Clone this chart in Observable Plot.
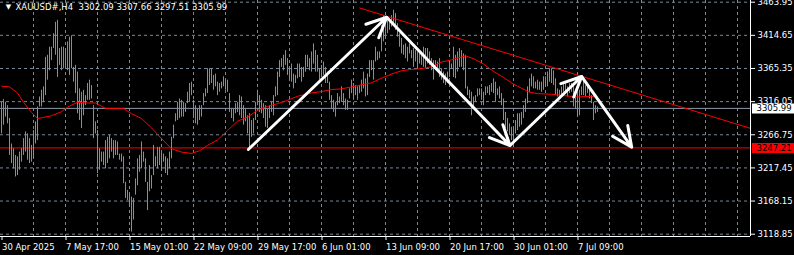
<!DOCTYPE html>
<html><head><meta charset="utf-8">
<script src="https://cdn.jsdelivr.net/npm/d3@7"></script>
<script src="https://cdn.jsdelivr.net/npm/@observablehq/plot@0.6"></script>
<style>html,body{margin:0;padding:0;background:#000;overflow:hidden}svg{display:block}</style>
</head><body><div id="chart"></div>
<script>
const titleText = "XAUUSD#,H4\u00a0 3302.09 3307.66 3297.51 3305.99";
const highs = [
3315,3319,3315,3310,3291,3253,3246,3236,3234,3241,3246,3261,3271,3268,3261,3251,3273,3286,3308,3323,
3333,3338,3382,3385,3397,3397,3417,3434,3437,3395,3397,3397,3395,3405,3412,3414,3367,3370,3360,3335,
3330,3333,3325,3343,3348,3340,3310,3286,3273,3246,3241,3241,3258,3263,3266,3261,3258,3258,3256,3238,
3238,3234,3196,3184,3177,3174,3172,3201,3231,3236,3256,3241,3231,3196,3221,
3206,3251,3234,3248,3248,3241,3238,3234,3231,3241,3263,3281,3298,3315,3320,3318,3315,3313,3330,3343,
3345,3318,3310,3305,3310,3310,3328,3335,3365,3365,3365,3355,3357,3345,3343,3345,3353,3348,3348,3328,
3305,3305,3313,3315,3325,3323,3310,3305,3295,3298,3288,3291,3315,3333,3325,3318,3313,3310,3305,3310,
3315,3325,3338,3360,3377,3380,3385,3392,3380,3367,3372,3357,3355,3372,3372,
3367,3367,3385,3385,3380,3390,3402,3392,3385,3365,3370,3375,3367,3360,3345,3325,3318,3315,3328,3323,
3338,3328,3320,3318,3335,3348,3343,3340,3338,3340,3348,3360,3350,3357,3377,3377,3377,3397,3390,3390,
3429,3444,3442,3439,3434,3444,3452,3447,3432,3417,3410,3400,3402,3397,3402,3392,3395,3392,3390,3392,
3390,3397,3395,3395,3390,3380,3377,3377,3375,3380,3365,3360,3357,3360,3377,
3372,3397,3385,3390,3395,3392,3387,3385,3338,3333,3330,3323,3325,3335,3335,3335,3330,3338,3338,3340,
3343,3350,3345,3335,3338,3328,3320,3300,3291,3283,3278,3276,3288,3298,3298,3300,3310,3320,3338,3350,
3357,3353,3345,3348,3345,3345,3353,3353,3360,3365,3365,3362,3350,3335,3333,3338,3345,3345,3338,3343,
3343,3340,3325,3330,3333,3338,3350,3340,3340,3333,3325,3315,3310,3308];
const lows = [
3268,3281,3293,3283,3236,3224,3216,3204,3206,3214,3226,3236,3241,3229,3224,3226,3231,3253,3258,3308,
3308,3315,3325,3348,3362,3377,3395,3385,3352,3370,3362,3365,3365,3362,3355,3365,3345,3328,3298,3288,
3276,3295,3310,3318,3318,3320,3261,3268,3209,3214,3226,3221,3216,3224,3231,3241,3231,3236,3236,3229,
3226,3194,3172,3169,3162,3122,3140,3177,3191,3211,3216,3226,3196,3154,3182,
3186,3206,3219,3216,3221,3214,3226,3209,3206,3216,3231,3261,3286,3288,3291,3293,3293,3300,3313,3315,
3325,3291,3283,3281,3288,3293,3310,3323,3328,3340,3343,3333,3338,3325,3330,3335,3338,3333,3330,3300,
3291,3286,3298,3300,3295,3291,3281,3286,3268,3248,3263,3268,3288,3310,3300,3298,3291,3278,3276,3291,
3300,3295,3323,3325,3352,3367,3362,3370,3355,3350,3345,3335,3343,3350,3352,
3345,3352,3360,3367,3362,3360,3372,3360,3360,3348,3352,3355,3343,3343,3318,3305,3300,3293,3310,3313,
3315,3310,3303,3303,3320,3328,3318,3325,3318,3328,3330,3335,3323,3325,3352,3362,3348,3375,3377,3380,
3390,3405,3410,3417,3422,3427,3432,3422,3412,3397,3387,3385,3380,3375,3387,3380,3367,3375,3367,3372,
3370,3367,3365,3372,3370,3362,3348,3365,3360,3352,3348,3343,3340,3343,3352,
3365,3352,3350,3360,3367,3367,3362,3335,3325,3320,3295,3305,3315,3323,3325,3318,3310,3325,3328,3325,
3330,3328,3315,3325,3320,3310,3288,3276,3271,3266,3258,3248,3268,3273,3278,3281,3291,3300,3313,3330,
3338,3335,3335,3333,3333,3330,3333,3338,3338,3345,3343,3340,3325,3323,3323,3325,3330,3330,3323,3328,
3330,3308,3305,3295,3295,3325,3325,3323,3328,3320,3313,3288,3298,3300];
const maIdx = [0,4,8,11,15,18,20,25,30,33,38,43,47,52,57,61,65,70,75,80,85,90,95,99,103,108,113,118,123,128,
133,138,143,148,155,160,165,170,175,180,185,190,195,200,205,210,215,220,225,228,232,236,241,246,251,256,260,264,268,275,
281,288,295,298];
const maVal = [3339,3338,3329,3315,3300,3291,3292,3295,3301,3308,3315,3314,3314,3306,3306,3306,3298,3291,3277,3261,
3246,3241,3239,3243,3251,3259,3273,3287,3293,3303,3309,3313,3318,3324,3329,3331,3334,3335,3338,3341,
3344,3351,3357,3362,3364,3365,3368,3375,3378,3381,3384,3380,3372,3361,3352,3342,3336,3330,3328,3327,
3325,3323,3324,3323];
const xTickIdx = [0,32,64,96,128,160,192,224,256,288];
const xTickLabels = ["30 Apr 2025","7 May 17:00","15 May 01:00","22 May 09:00","29 May 17:00","6 Jun 01:00","13 Jun 09:00","20 Jun 17:00","30 Jun 01:00","7 Jul 09:00"];
const gridIdx = d3.range(16, 369, 16);
const yTicks = [3118.85,3168.15,3217.45,3266.75,3316.05,3365.35,3414.65,3463.95];
const bidPrice = 3305.99;
const levelPrice = 3247.21;
const trendIdx = [178.9, 374.25];
const trendVal = [3455.6, 3276.5];
const arrowIdx = [123.4, 192.6, 254.25, 290.1, 315.1];
const arrowVal = [3244.8, 3441.6, 3250.8, 3353.4, 3248.3];

const xDomain = [-0.5, 374.5];
const yDomain = [3115.43, 3466.48];

const bars = highs.map((h, i) => ({i, high: h, low: lows[i]}));
const ma = maIdx.map((i, k) => ({i, v: maVal[k]}));
const trend = [{x1: trendIdx[0], y1: trendVal[0], x2: trendIdx[1], y2: trendVal[1]}];
const arrows = arrowIdx.slice(0, -1).map((x, k) => ({x1: x, y1: arrowVal[k], x2: arrowIdx[k+1], y2: arrowVal[k+1]}));

const grid = "#778899";
const chart = Plot.plot({
  width: 794, height: 255,
  marginTop: 0, marginRight: 44, marginBottom: 19, marginLeft: 0,
  style: {background: "#000", color: "#fff", fontFamily: "DejaVu Sans", fontSize: "8.5px"},
  x: {type: "linear", domain: xDomain},
  y: {type: "linear", domain: yDomain},
  marks: [
    Plot.gridY({ticks: yTicks, stroke: grid, strokeOpacity: 1, strokeDasharray: "3,3"}),
    Plot.gridX({ticks: gridIdx, stroke: grid, strokeOpacity: 1, strokeDasharray: "3,3"}),
    Plot.ruleY([bidPrice], {stroke: "#8c9aab"}),
    Plot.ruleY([levelPrice], {stroke: "#ff0000"}),
    Plot.ruleX(bars, {x: "i", y1: "low", y2: "high", stroke: "#32cd32"}),
    Plot.line(ma, {x: "i", y: "v", stroke: "#ff0000", strokeWidth: 1}),
    Plot.link(trend, {x1: "x1", y1: "y1", x2: "x2", y2: "y2", stroke: "#ff0000", strokeWidth: 1}),
    Plot.arrow(arrows, {x1: "x1", y1: "y1", x2: "x2", y2: "y2", stroke: "#fff", strokeWidth: 3, headLength: 11, headAngle: 50}),
    Plot.axisY({anchor: "right", ticks: yTicks, tickFormat: d => d.toFixed(2), tickSize: 4, tickPadding: 3}),
    Plot.axisX({ticks: xTickIdx, tickFormat: d => xTickLabels[xTickIdx.indexOf(d)], tickSize: 4, tickPadding: 3, textAnchor: "start", dx: 0.5}),
    Plot.ruleY([bidPrice], {x1: 375.5, x2: 396.5, stroke: "#fff", strokeWidth: 10}),
    Plot.text([bidPrice], {x: 377.5, y: d => d, text: d => d.toFixed(2), fill: "#000", textAnchor: "start"}),
    Plot.ruleY([levelPrice], {x1: 375.5, x2: 396.5, stroke: "#ff0000", strokeWidth: 10}),
    Plot.text([levelPrice], {x: 377.5, y: d => d, text: d => d.toFixed(2), fill: "#000", textAnchor: "start"}),
    Plot.ruleX([xDomain[1]], {stroke: "#fff"}),
    Plot.ruleY([yDomain[0]], {stroke: "#fff"}),
    Plot.text([titleText], {frameAnchor: "top-left", dx: 15, dy: 3, lineAnchor: "top", textAnchor: "start", fill: "#fff"}),
    Plot.text(["\u25BC"], {frameAnchor: "top-left", dx: 8, dy: 4, lineAnchor: "top", textAnchor: "middle", fill: "#fff", fontSize: 7})
  ]
});
document.getElementById("chart").append(chart);
</script>
</body></html>
